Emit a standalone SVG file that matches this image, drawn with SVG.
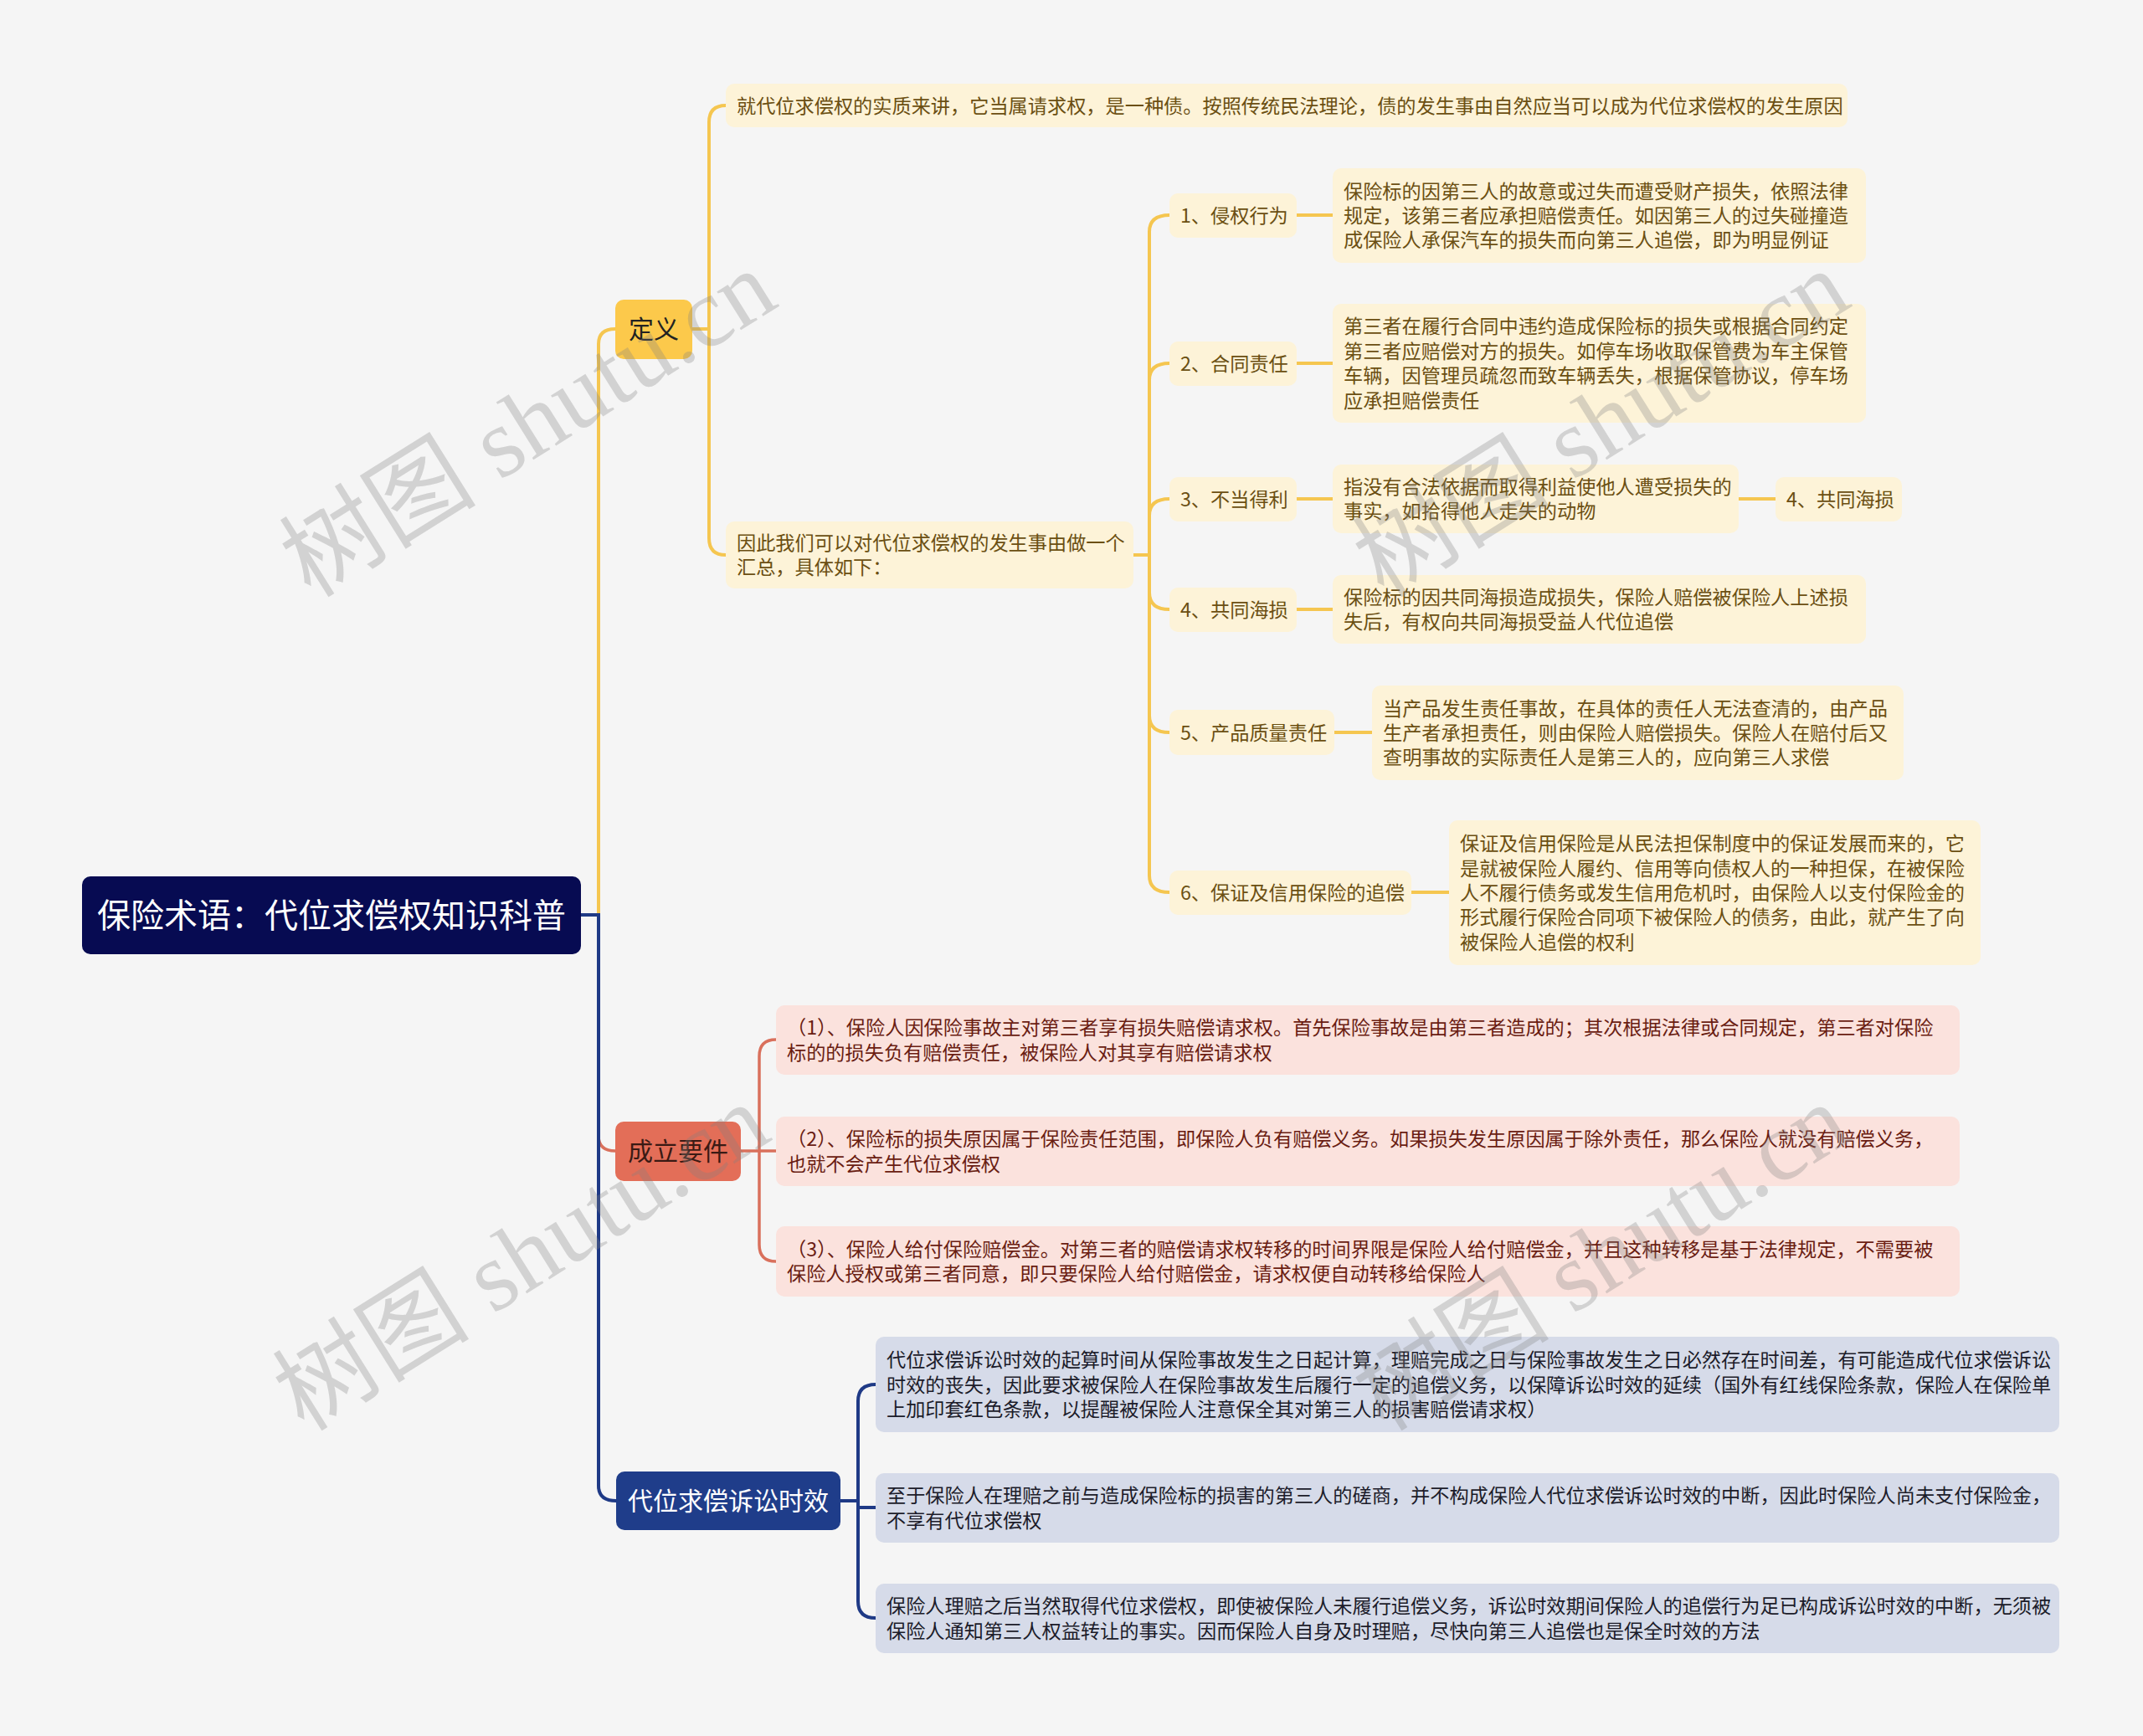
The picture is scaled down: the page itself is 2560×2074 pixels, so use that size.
<svg xmlns="http://www.w3.org/2000/svg" width="2560" height="2074" viewBox="0 0 2560 2074">
<style>
text{font-family:"Noto Sans CJK SC","Noto Sans",sans-serif;}
.t23{font-size:23.2px;}
.ty{fill:#6b4f12;}
.tr{fill:#6a1d12;}
.tb{fill:#1c1c2a;}
.by{fill:#fdf3d8;}
.br{fill:#fbe2dd;}
.bb{fill:#d6dbe9;}
.cy{fill:none;stroke:#f5c650;stroke-width:4;}
.cr{fill:none;stroke:#d9705c;stroke-width:3.5;}
.cb{fill:none;stroke:#1f3a86;stroke-width:4;}
.wm{font-family:"Liberation Serif","Noto Sans CJK SC",serif;font-size:118px;fill:#808080;fill-opacity:0.3;}
</style>
<rect width="2560" height="2074" fill="#f5f5f5"/>

<g id="connectors">
  <path class="cy" d="M715 1093 V411 Q715 393 735 393" stroke-width="5"/>
  <path class="cr" d="M715 1093 V1357 Q715 1375 735 1375" stroke-width="5"/>
  <path class="cb" d="M694 1093 H715 V1775 Q715 1793 736 1793" stroke-width="5"/>
  <path class="cy" d="M827 393 H847"/>
  <path class="cy" d="M867 126 Q847 126 847 146 V643 Q847 663 867 663"/>
  <path class="cy" d="M1354 663 H1373"/>
  <path class="cy" d="M1397 257 Q1373 257 1373 277 V1046 Q1373 1066 1397 1066"/>
  <path class="cy" d="M1373 454 Q1373 434 1397 434"/>
  <path class="cy" d="M1373 616 Q1373 596 1397 596"/>
  <path class="cy" d="M1373 708 Q1373 728 1397 728"/>
  <path class="cy" d="M1373 855 Q1373 875 1397 875"/>
  <path class="cy" d="M1549 257 H1592"/>
  <path class="cy" d="M1549 434 H1592"/>
  <path class="cy" d="M1549 596 H1592"/>
  <path class="cy" d="M2077 596 H2121"/>
  <path class="cy" d="M1549 728 H1592"/>
  <path class="cy" d="M1594 875 H1639"/>
  <path class="cy" d="M1686 1066 H1731"/>
  <path class="cr" d="M885 1375 H927"/>
  <path class="cr" d="M927 1242 Q907 1242 907 1262 V1487 Q907 1507 927 1507"/>
  <path class="cb" d="M1004 1793 H1025"/>
  <path class="cb" d="M1046 1654 Q1025 1654 1025 1674 V1913 Q1025 1933 1046 1933"/>
  <path class="cb" d="M1025 1801 H1046"/>
</g>

<g id="root">
  <rect x="98" y="1047" width="596" height="93" rx="10" fill="#070b52"/>
  <text x="396" y="1108" font-size="40" fill="#ffffff" text-anchor="middle">保险术语：代位求偿权知识科普</text>
</g>

<g id="n-dingyi">
  <rect x="735" y="358" width="92" height="71" rx="10" fill="#fcc94b"/>
  <text x="781" y="404" font-size="30" fill="#222222" text-anchor="middle">定义</text>
</g>
<g id="n-chengli">
  <rect x="735" y="1340" width="150" height="71" rx="10" fill="#e36e58"/>
  <text x="810" y="1386" font-size="30" fill="#3a1a14" text-anchor="middle">成立要件</text>
</g>
<g id="n-shixiao">
  <rect x="736" y="1758" width="268" height="70" rx="10" fill="#1f3d8a"/>
  <text x="870" y="1804" font-size="30" fill="#ffffff" text-anchor="middle">代位求偿诉讼时效</text>
</g>

<g id="n-a">
  <rect class="by" x="867" y="100" width="1340" height="52" rx="10"/>
  <text class="t23 ty" x="880" y="134.5">就代位求偿权的实质来讲，它当属请求权，是一种债。按照传统民法理论，债的发生事由自然应当可以成为代位求偿权的发生原因</text>
</g>
<g id="n-b">
  <rect class="by" x="867" y="623" width="487" height="80" rx="10"/>
  <text class="t23 ty" x="880" y="657"><tspan x="880">因此我们可以对代位求偿权的发生事由做一个</tspan><tspan x="880" dy="29.4">汇总，具体如下：</tspan></text>
</g>

<g id="i1">
  <rect class="by" x="1397" y="231" width="152" height="53" rx="10"/>
  <text class="t23 ty" x="1410" y="266">1、侵权行为</text>
</g>
<g id="d1">
  <rect class="by" x="1592" y="201" width="637" height="113" rx="10"/>
  <text class="t23 ty" y="236.6"><tspan x="1605">保险标的因第三人的故意或过失而遭受财产损失，依照法律</tspan><tspan x="1605" dy="29.4">规定，该第三者应承担赔偿责任。如因第三人的过失碰撞造</tspan><tspan x="1605" dy="29.4">成保险人承保汽车的损失而向第三人追偿，即为明显例证</tspan></text>
</g>

<g id="i2">
  <rect class="by" x="1397" y="408" width="152" height="53" rx="10"/>
  <text class="t23 ty" x="1410" y="443">2、合同责任</text>
</g>
<g id="d2">
  <rect class="by" x="1592" y="363" width="637" height="142" rx="10"/>
  <text class="t23 ty" y="398.4"><tspan x="1605">第三者在履行合同中违约造成保险标的损失或根据合同约定</tspan><tspan x="1605" dy="29.4">第三者应赔偿对方的损失。如停车场收取保管费为车主保管</tspan><tspan x="1605" dy="29.4">车辆，因管理员疏忽而致车辆丢失，根据保管协议，停车场</tspan><tspan x="1605" dy="29.4">应承担赔偿责任</tspan></text>
</g>

<g id="i3">
  <rect class="by" x="1397" y="570" width="152" height="53" rx="10"/>
  <text class="t23 ty" x="1410" y="605">3、不当得利</text>
</g>
<g id="d3">
  <rect class="by" x="1592" y="555" width="485" height="82" rx="10"/>
  <text class="t23 ty" y="589.8"><tspan x="1605">指没有合法依据而取得利益使他人遭受损失的</tspan><tspan x="1605" dy="29.4">事实，如拾得他人走失的动物</tspan></text>
</g>
<g id="d3b">
  <rect class="by" x="2121" y="570" width="151" height="53" rx="10"/>
  <text class="t23 ty" x="2134" y="605">4、共同海损</text>
</g>

<g id="i4">
  <rect class="by" x="1397" y="702" width="152" height="53" rx="10"/>
  <text class="t23 ty" x="1410" y="737">4、共同海损</text>
</g>
<g id="d4">
  <rect class="by" x="1592" y="687" width="637" height="82" rx="10"/>
  <text class="t23 ty" y="721.8"><tspan x="1605">保险标的因共同海损造成损失，保险人赔偿被保险人上述损</tspan><tspan x="1605" dy="29.4">失后，有权向共同海损受益人代位追偿</tspan></text>
</g>

<g id="i5">
  <rect class="by" x="1397" y="848" width="197" height="54" rx="10"/>
  <text class="t23 ty" x="1410" y="884">5、产品质量责任</text>
</g>
<g id="d5">
  <rect class="by" x="1639" y="819" width="635" height="113" rx="10"/>
  <text class="t23 ty" y="854.6"><tspan x="1652">当产品发生责任事故，在具体的责任人无法查清的，由产品</tspan><tspan x="1652" dy="29.4">生产者承担责任，则由保险人赔偿损失。保险人在赔付后又</tspan><tspan x="1652" dy="29.4">查明事故的实际责任人是第三人的，应向第三人求偿</tspan></text>
</g>

<g id="i6">
  <rect class="by" x="1397" y="1040" width="289" height="53" rx="10"/>
  <text class="t23 ty" x="1410" y="1075">6、保证及信用保险的追偿</text>
</g>
<g id="d6">
  <rect class="by" x="1731" y="980" width="635" height="173" rx="10"/>
  <text class="t23 ty" y="1016.2"><tspan x="1744">保证及信用保险是从民法担保制度中的保证发展而来的，它</tspan><tspan x="1744" dy="29.4">是就被保险人履约、信用等向债权人的一种担保，在被保险</tspan><tspan x="1744" dy="29.4">人不履行债务或发生信用危机时，由保险人以支付保险金的</tspan><tspan x="1744" dy="29.4">形式履行保险合同项下被保险人的债务，由此，就产生了向</tspan><tspan x="1744" dy="29.4">被保险人追偿的权利</tspan></text>
</g>

<g id="r1">
  <rect class="br" x="927" y="1201" width="1414" height="83" rx="10"/>
  <text class="t23 tr" y="1236.3"><tspan x="940">（1）、保险人因保险事故主对第三者享有损失赔偿请求权。首先保险事故是由第三者造成的；其次根据法律或合同规定，第三者对保险</tspan><tspan x="940" dy="29.4">标的的损失负有赔偿责任，被保险人对其享有赔偿请求权</tspan></text>
</g>
<g id="r2">
  <rect class="br" x="927" y="1334" width="1414" height="83" rx="10"/>
  <text class="t23 tr" y="1369.3"><tspan x="940">（2）、保险标的损失原因属于保险责任范围，即保险人负有赔偿义务。如果损失发生原因属于除外责任，那么保险人就没有赔偿义务，</tspan><tspan x="940" dy="29.4">也就不会产生代位求偿权</tspan></text>
</g>
<g id="r3">
  <rect class="br" x="927" y="1465" width="1414" height="84" rx="10"/>
  <text class="t23 tr" y="1500.8"><tspan x="940">（3）、保险人给付保险赔偿金。对第三者的赔偿请求权转移的时间界限是保险人给付赔偿金，并且这种转移是基于法律规定，不需要被</tspan><tspan x="940" dy="29.4">保险人授权或第三者同意，即只要保险人给付赔偿金，请求权便自动转移给保险人</tspan></text>
</g>

<g id="b1">
  <rect class="bb" x="1046" y="1597" width="1414" height="114" rx="10"/>
  <text class="t23 tb" y="1633.1"><tspan x="1059">代位求偿诉讼时效的起算时间从保险事故发生之日起计算，理赔完成之日与保险事故发生之日必然存在时间差，有可能造成代位求偿诉讼</tspan><tspan x="1059" dy="29.4">时效的丧失，因此要求被保险人在保险事故发生后履行一定的追偿义务，以保障诉讼时效的延续（国外有红线保险条款，保险人在保险单</tspan><tspan x="1059" dy="29.4">上加印套红色条款，以提醒被保险人注意保全其对第三人的损害赔偿请求权）</tspan></text>
</g>
<g id="b2">
  <rect class="bb" x="1046" y="1760" width="1414" height="83" rx="10"/>
  <text class="t23 tb" y="1795.3"><tspan x="1059">至于保险人在理赔之前与造成保险标的损害的第三人的磋商，并不构成保险人代位求偿诉讼时效的中断，因此时保险人尚未支付保险金，</tspan><tspan x="1059" dy="29.4">不享有代位求偿权</tspan></text>
</g>
<g id="b3">
  <rect class="bb" x="1046" y="1892" width="1414" height="83" rx="10"/>
  <text class="t23 tb" y="1927.3"><tspan x="1059">保险人理赔之后当然取得代位求偿权，即使被保险人未履行追偿义务，诉讼时效期间保险人的追偿行为足已构成诉讼时效的中断，无须被</tspan><tspan x="1059" dy="29.4">保险人通知第三人权益转让的事实。因而保险人自身及时理赔，尽快向第三人追偿也是保全时效的方法</tspan></text>
</g>

<g id="watermark">
  <text class="wm" text-anchor="middle" transform="translate(652 540) rotate(-32)">树图 shutu.cn</text>
  <text class="wm" text-anchor="middle" transform="translate(1934 540) rotate(-32)">树图 shutu.cn</text>
  <text class="wm" text-anchor="middle" transform="translate(644 1536) rotate(-32)">树图 shutu.cn</text>
  <text class="wm" text-anchor="middle" transform="translate(1934 1536) rotate(-32)">树图 shutu.cn</text>
</g>
</svg>
